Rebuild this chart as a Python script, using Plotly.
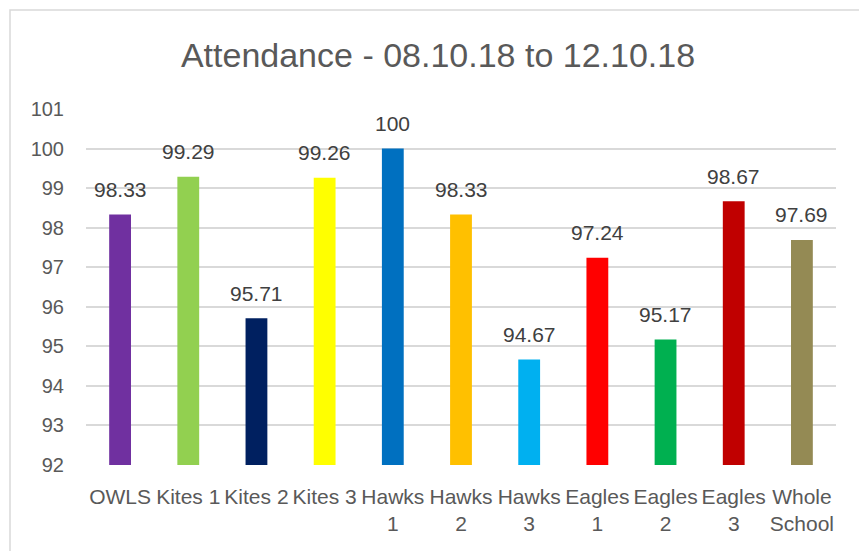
import plotly.graph_objects as go

categories = ["OWLS", "Kites 1", "Kites 2", "Kites 3", "Hawks<br>1", "Hawks<br>2",
              "Hawks<br>3", "Eagles<br>1", "Eagles<br>2", "Eagles<br>3", "Whole<br>School"]
values = [98.33, 99.29, 95.71, 99.26, 100, 98.33, 94.67, 97.24, 95.17, 98.67, 97.69]
labels = ["98.33", "99.29", "95.71", "99.26", "100", "98.33", "94.67", "97.24", "95.17", "98.67", "97.69"]
colors = ["#7030A0", "#92D050", "#002060", "#FFFF00", "#0070C0", "#FFC000",
          "#00B0F0", "#FF0000", "#00B050", "#C00000", "#948A54"]
y_ticks = list(range(92, 102))

FONT = "Liberation Sans, Arial, sans-serif"

fig = go.Figure()
fig.add_trace(go.Bar(
    x=categories, y=values, marker=dict(color=colors, line=dict(width=0)),
    hoverinfo="skip", showlegend=False,
))

annotations = []
for c, v, t in zip(categories, values, labels):
    annotations.append(dict(x=c, y=v, xref="x", yref="y", text=t, showarrow=False,
                            yanchor="middle", yshift=25,
                            font=dict(family=FONT, size=21, color="#404040")))

fig.update_layout(
    width=859, height=551,
    margin=dict(l=86, r=23, t=109, b=86),
    paper_bgcolor="white", plot_bgcolor="white",
    bargap=0.68,
    title=dict(text="Attendance - 08.10.18 to 12.10.18", x=438/859, xanchor="center",
               y=1-55/551, yanchor="middle", yref="container",
               font=dict(family=FONT, size=34, color="#595959")),
    xaxis=dict(showgrid=False, showline=False, zeroline=False, ticks="",
               tickfont=dict(family=FONT, size=21, color="#595959"),
               ticklabelstandoff=17, tickangle=0, fixedrange=True, automargin=False),
    yaxis=dict(range=[92, 101], tickvals=y_ticks, showgrid=True, gridcolor="#d9d9d9",
               gridwidth=1.5, zeroline=False, showline=False, ticks="",
               tickfont=dict(family=FONT, size=20, color="#595959"),
               ticklabelstandoff=21, fixedrange=True, automargin=False),
    annotations=annotations,
    shapes=[dict(type="rect", xref="paper", yref="paper",
                 x0=(10-86)/750, x1=(866-86)/750, y0=(465-556)/356, y1=(465-10)/356,
                 line=dict(color="#d9d9d9", width=1.5), fillcolor="rgba(0,0,0,0)", layer="below")],
)

fig.write_html("out.html", config={"displayModeBar": False},
               post_script="document.body.style.margin='0';document.body.style.overflow='hidden';")
